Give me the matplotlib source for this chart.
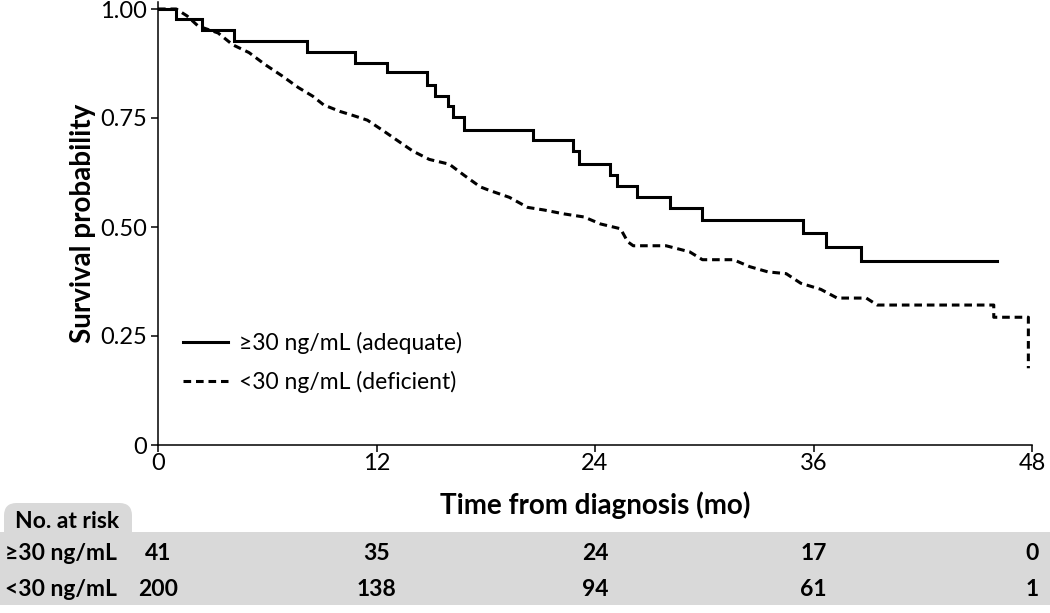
import matplotlib
matplotlib.use("Agg")
import matplotlib.pyplot as plt
from matplotlib.patches import Rectangle, FancyBboxPatch
from matplotlib.transforms import blended_transform_factory
from matplotlib.lines import Line2D

plt.rcParams['font.family'] = ['Lato', 'DejaVu Sans']
plt.rcParams['lines.scale_dashes'] = False

# ---- data ----
adequate_t = [0, 1.0, 2.4, 4.2, 8.2, 10.8, 12.6, 14.8, 15.2, 15.9, 16.2, 16.8,
              20.6, 22.8, 23.1, 24.8, 25.2, 26.3, 28.1, 29.9, 35.4, 36.7, 38.6, 46.1]
adequate_s = [1.0, 0.976, 0.951, 0.927, 0.902, 0.876, 0.855, 0.826, 0.80, 0.777,
              0.752, 0.723, 0.70, 0.674, 0.645, 0.62, 0.595, 0.569, 0.543, 0.516,
              0.487, 0.455, 0.421, 0.421]

deficient_t = [0, 1.0, 1.6, 2.2, 3.3, 4.1, 5.0, 5.9, 6.8, 7.7, 8.5, 9.1, 10.0, 10.7,
               11.5, 12.4, 13.3, 14.0, 14.9, 16.0, 16.8, 17.7, 18.2, 19.3, 20.3,
               21.2, 22.3, 23.4, 24.3, 25.4, 25.8, 26.1, 27.9, 29.2, 29.9, 31.6,
               32.5, 33.5, 34.5, 35.3, 36.4, 37.3, 38.9, 39.5, 45.9, 45.9, 47.8, 47.8]
deficient_s = [1.0, 1.0, 0.984, 0.961, 0.945, 0.918, 0.90, 0.872, 0.847, 0.82, 0.80,
               0.78, 0.765, 0.756, 0.745, 0.72, 0.694, 0.674, 0.655, 0.644, 0.619,
               0.592, 0.584, 0.568, 0.545, 0.539, 0.53, 0.523, 0.507, 0.496, 0.466,
               0.457, 0.457, 0.443, 0.425, 0.425, 0.409, 0.397, 0.393, 0.371, 0.357,
               0.337, 0.337, 0.321, 0.321, 0.293, 0.293, 0.176]

series_labels = ["\u226530 ng/mL (adequate)", "<30 ng/mL (deficient)"]
xticks = [0, 12, 24, 36, 48]
yticks = [0, 0.25, 0.5, 0.75, 1.0]
ytick_labels = ["0", "0.25", "0.50", "0.75", "1.00"]
risk_groups = ["\u226530 ng/mL", "<30 ng/mL"]
risk_adequate = [41, 35, 24, 17, 0]
risk_deficient = [200, 138, 94, 61, 1]

W, H = 1050, 613
fig = plt.figure(figsize=(W / 100, H / 100), dpi=100)
ax = fig.add_axes([158 / W, 1 - 445 / H, (1032 - 158) / W, (445 - 2) / H])

ax.plot(adequate_t, adequate_s, drawstyle='steps-post', color='black', lw=2.2,
        solid_joinstyle='miter', label=series_labels[0])
ax.plot(deficient_t, deficient_s, color='black', lw=2.2, dashes=(5.5, 3.5),
        label=series_labels[1])

ax.set_xlim(0, 48)
ax.set_ylim(0, 443 / 436)
ax.set_xticks(xticks)
ax.set_xticklabels([str(v) for v in xticks])
ax.set_yticks(yticks)
ax.set_yticklabels(ytick_labels)
for s in ['top', 'right']:
    ax.spines[s].set_visible(False)
for s in ['left', 'bottom']:
    ax.spines[s].set_linewidth(1.1)
ax.tick_params(direction='out', length=5, width=1.1, labelsize=17)
ax.tick_params(axis='x', pad=1)
ax.tick_params(axis='y', pad=3)
ax.set_ylabel("Survival probability", fontsize=20, fontweight='bold', labelpad=3)
ax.set_xlabel("Time from diagnosis (mo)", fontsize=20, fontweight='bold', labelpad=12)

handles = [Line2D([], [], color='black', lw=2.2),
           Line2D([], [], color='black', lw=2.2, dashes=(5.5, 3.5))]
ax.legend(handles, series_labels, loc='upper left', frameon=False,
          bbox_to_anchor=(183 / W, 1 - 332 / H), bbox_transform=fig.transFigure,
          borderpad=0, borderaxespad=0, fontsize=16.5, handlelength=1.95,
          handletextpad=0.5, labelspacing=0.75)

# ---- risk table ----
gray = '#d9d9d9'
band = Rectangle((0, 1 - 605 / H), 1, (605 - 532) / H, transform=fig.transFigure,
                 facecolor=gray, edgecolor='none', zorder=0)
fig.add_artist(band)
tab = FancyBboxPatch((4 / W, 1 - 545 / H), (132 - 4) / W, (545 - 503) / H,
                     boxstyle="round,pad=0,rounding_size=0.012",
                     transform=fig.transFigure, facecolor=gray, edgecolor='none',
                     zorder=0, mutation_aspect=W / H)
fig.add_artist(tab)

fsz = 16.5
fig.text(67 / W, 1 - 521 / H, "No. at risk", ha='center', va='center',
         fontsize=fsz, fontweight='bold')
fig.text(5 / W, 1 - 553 / H, risk_groups[0], ha='left', va='center',
         fontsize=fsz, fontweight='bold')
fig.text(5 / W, 1 - 590 / H, risk_groups[1], ha='left', va='center',
         fontsize=fsz, fontweight='bold')
tr = blended_transform_factory(ax.transData, fig.transFigure)
for t, a, d in zip(xticks, risk_adequate, risk_deficient):
    fig.text(t, 1 - 553 / H, str(a), transform=tr, ha='center', va='center',
             fontsize=fsz, fontweight='bold')
    fig.text(t, 1 - 590 / H, str(d), transform=tr, ha='center', va='center',
             fontsize=fsz, fontweight='bold')

fig.savefig("out.png", dpi=100)
